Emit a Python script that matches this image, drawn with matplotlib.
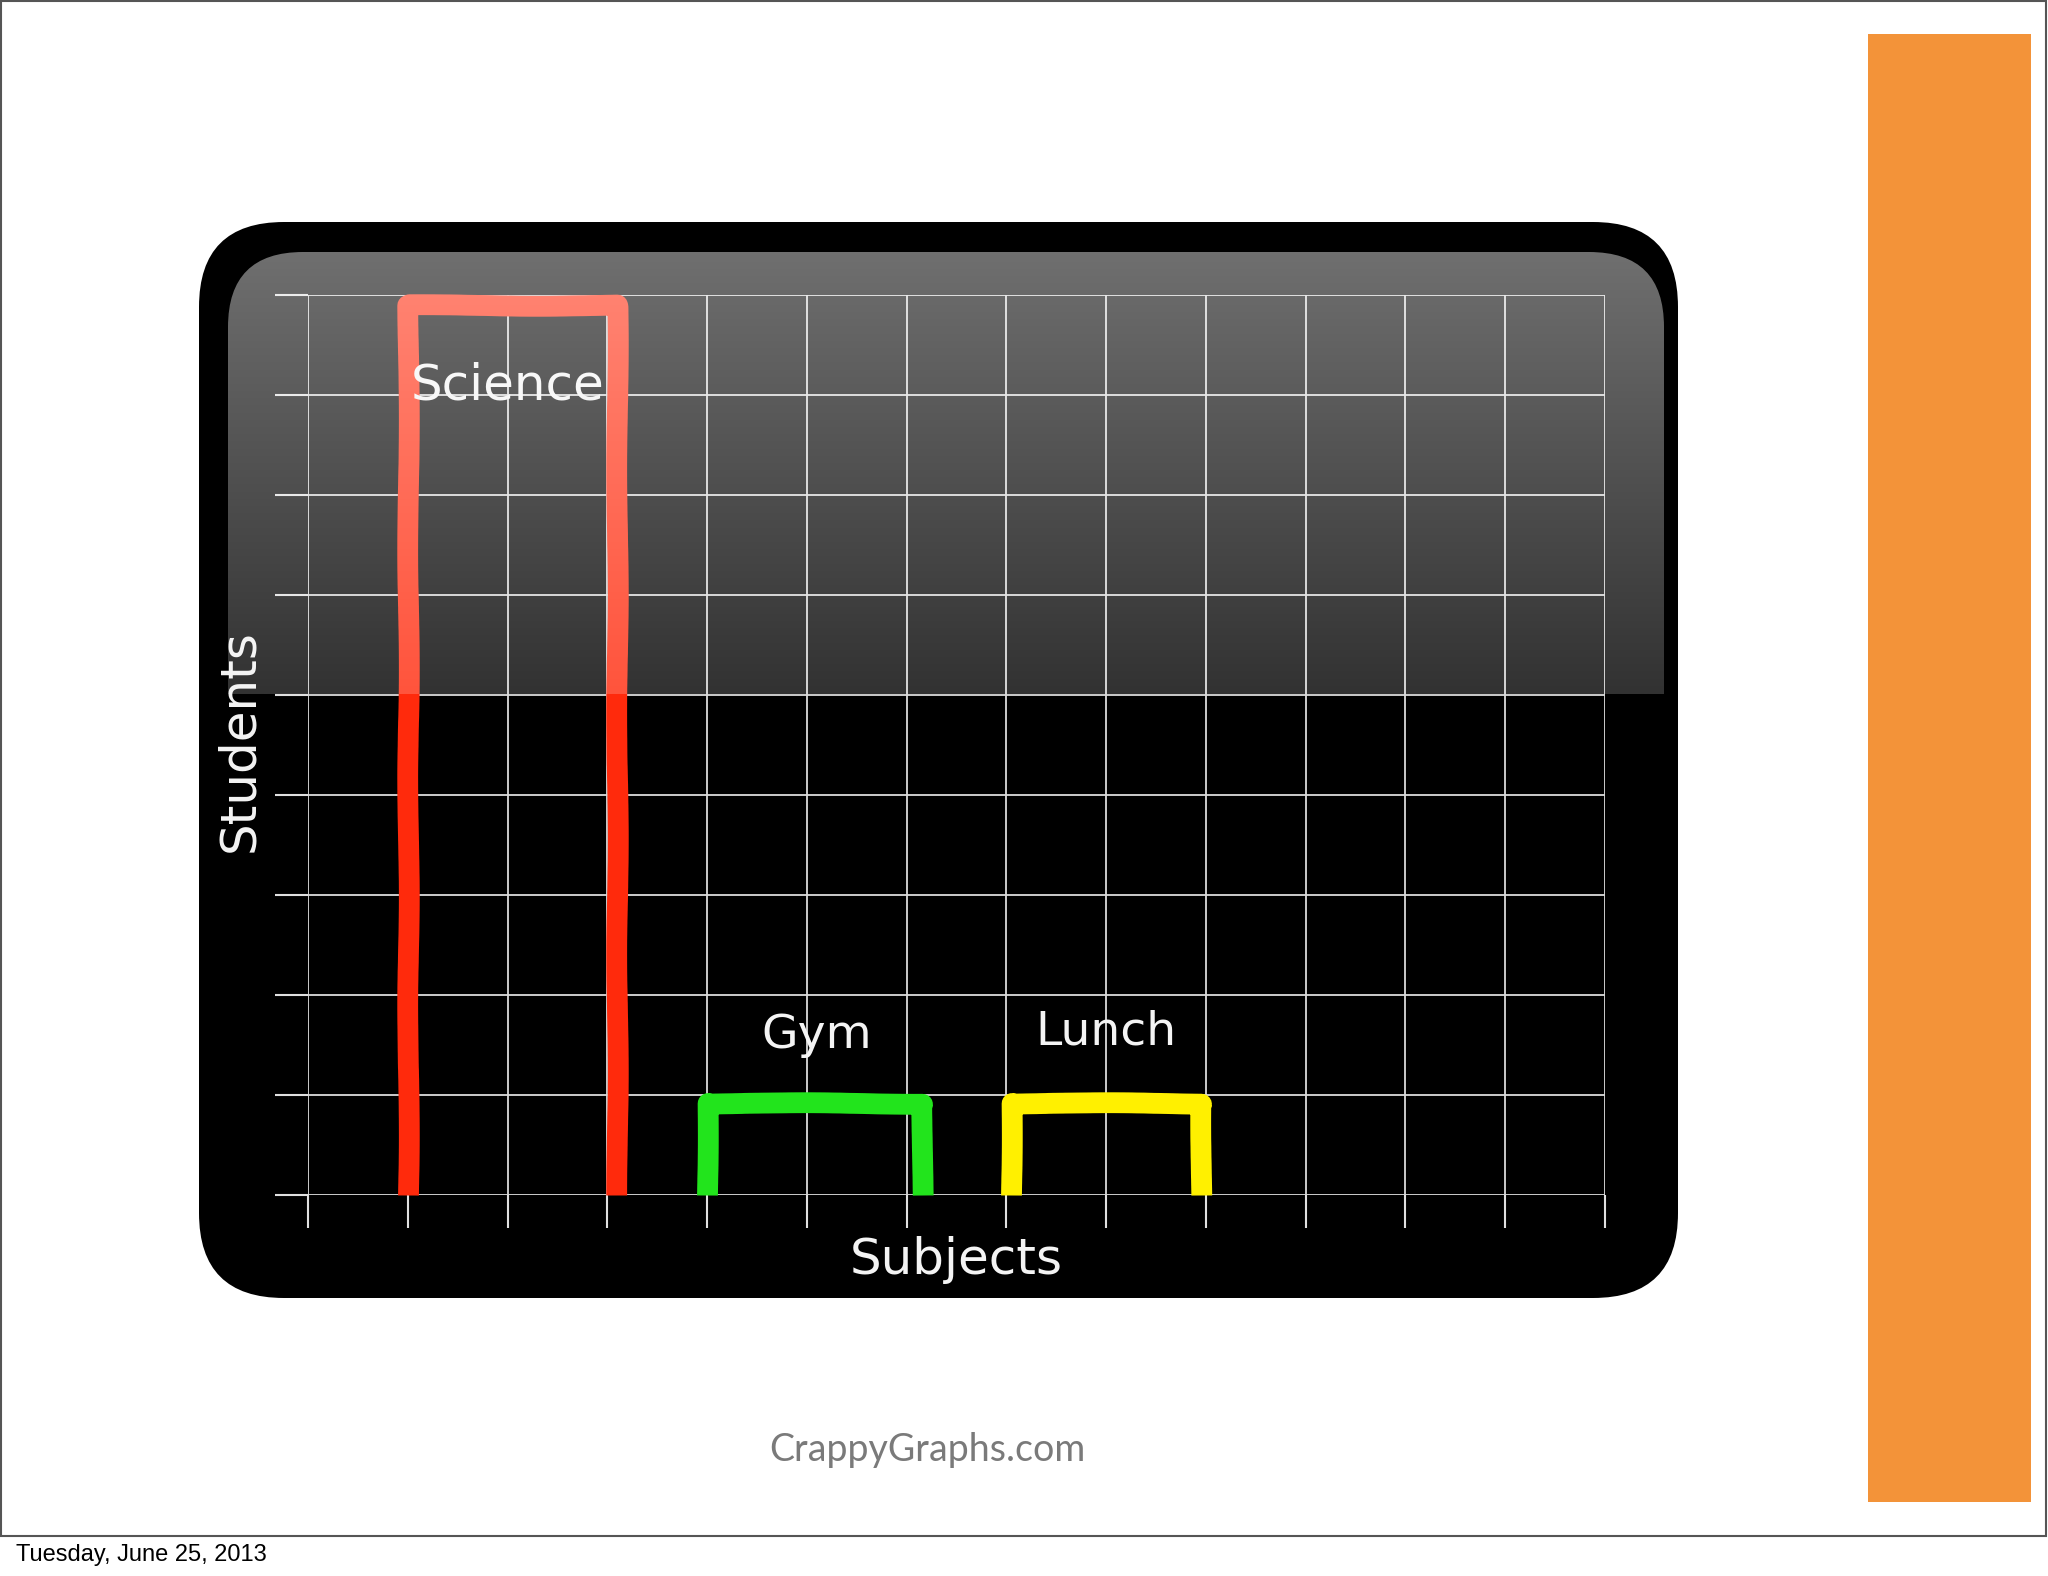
import numpy as np
import matplotlib
matplotlib.use('Agg')
import matplotlib.pyplot as plt
from matplotlib.patches import Rectangle, FancyBboxPatch

# data
subjects = ['Science', 'Gym', 'Lunch']
bar_left = [1.0, 4.0, 7.05]
bar_right = [3.1, 6.15, 8.95]
students = [8.9, 0.92, 0.92]
bar_colors = ['#ff2a0c', '#22e41c', '#fff000']
x_ticks = list(range(0, 14))
y_ticks = list(range(0, 10))

W, H = 2048, 1576
fig = plt.figure(figsize=(W / 100, H / 100), dpi=100)
fig.patch.set_facecolor('white')

# background layer in pixel coords
bg = fig.add_axes([0, 0, 1, 1])
bg.set_xlim(0, W)
bg.set_ylim(H, 0)
bg.axis('off')

# slide frame
bg.add_patch(Rectangle((1, 1), W - 3, 1535, fill=False, ec='#555555', lw=1.5))
# orange side bar
bg.add_patch(Rectangle((1868, 34), 163, 1468, fc='#f39339', ec='none'))
# tv screen
bg.add_patch(FancyBboxPatch((199, 222), 1479, 1076,
                            boxstyle='round,pad=0,rounding_size=85',
                            fc='black', ec='none'))

bg.text(927, 1450, 'CrappyGraphs.com', fontsize=27, color='#7a7a7a',
        family='Lato', ha='center', va='center')
bg.text(16, 1555, 'Tuesday, June 25, 2013', fontsize=17, color='black',
        family='Liberation Sans', ha='left', va='center')

# chart area
ax = fig.add_axes([308 / W, 1 - 1195 / H, (1605 - 308) / W, (1195 - 295) / H])
ax.set_facecolor('none')
ax.set_xlim(0, 13)
ax.set_ylim(0, 9)
ax.set_xticks(x_ticks)
ax.set_yticks(y_ticks)
ax.set_xticklabels([])
ax.set_yticklabels([])
ax.grid(True, color='#dcdcdc', lw=1.3)
ax.tick_params(direction='out', length=24, width=1.5, color='#e0e0e0')
for s in ax.spines.values():
    s.set_visible(False)
ax.set_axisbelow(True)

for name, x0, x1, h, c in zip(subjects, bar_left, bar_right, students, bar_colors):
    ln, = ax.plot([x0, x0, x1, x1], [0, h, h, 0], color=c, lw=15,
                  solid_joinstyle='round', solid_capstyle='butt', clip_on=False)
    ln.set_sketch_params(scale=0.8, length=300, randomness=3)

ax.text(2.0, 8.1, 'Science', color='#f4f4f4', fontsize=36, ha='center', va='center')
ax.text(5.1, 1.6, 'Gym', color='#f4f4f4', fontsize=34, ha='center', va='center')
ax.text(8.0, 1.63, 'Lunch', color='#f4f4f4', fontsize=34, ha='center', va='center')
ax.text(-0.69, 4.55, 'Students', color='#f4f4f4', fontsize=36, ha='center',
        va='center', rotation=90)
ax.text(6.5, -0.65, 'Subjects', color='#f4f4f4', fontsize=36, ha='center', va='center')

# gloss on the top half of the screen
gl = fig.add_axes([0, 0, 1, 1])
gl.set_xlim(0, W)
gl.set_ylim(H, 0)
gl.axis('off')
gl.patch.set_alpha(0)
grad = np.zeros((200, 2, 4))
a = np.linspace(0.44, 0.2, 200)
grad[:, :, :3] = 1.0
grad[:, :, 3] = a[:, None]
im = gl.imshow(grad, extent=[228, 1664, 694, 252], aspect='auto', interpolation='bilinear')
clip = FancyBboxPatch((228, 252), 1436, 700, boxstyle='round,pad=0,rounding_size=75',
                      fc='none', ec='none', transform=gl.transData)
gl.add_patch(clip)
im.set_clip_path(clip)

fig.savefig('out.png', dpi=100)
